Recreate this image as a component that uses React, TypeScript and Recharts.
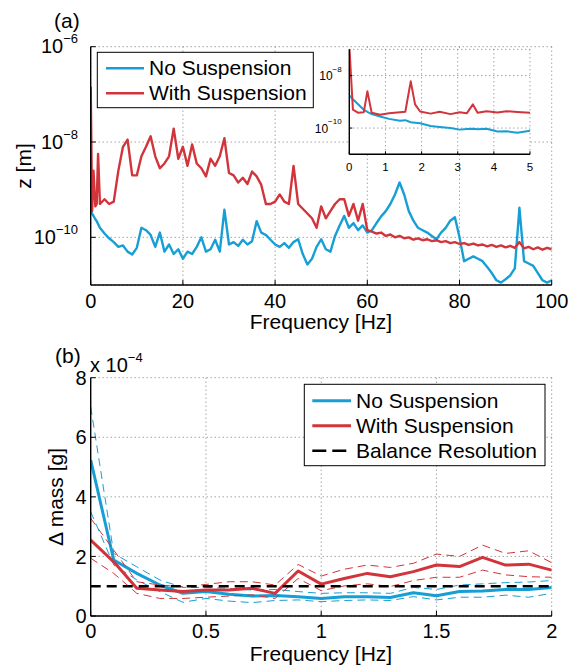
import React from 'react';
import { LineChart, Line, XAxis, YAxis, CartesianGrid } from 'recharts';

if (typeof document !== 'undefined') {
  document.body.style.margin = '0';
  document.documentElement.style.overflow = 'hidden';
  document.body.style.overflow = 'hidden';
}

const FONT = '"Liberation Sans", Arial, Helvetica, sans-serif';
const BLUE = '#179fd5';
const RED = '#d1343a';
const GRID = '#7a7a7a';

// ---------- Panel (a): displacement spectrum ----------
// frequency [Hz]
const spectrumFreq = [
  0, 0.3, 0.6, 1, 1.3, 1.6, 2, 3, 4, 5, 6, 7, 8, 9, 10,
  11, 12, 13, 14, 15, 16, 17, 18, 19, 20, 21, 22, 23, 24, 25, 26, 27, 28, 29, 30,
  31, 32, 33, 34, 35, 36, 37, 38, 39, 40, 41, 42, 43, 44, 45, 46, 47, 48, 49, 50,
  51, 52, 53, 54, 55, 56, 57, 58, 59, 60, 61, 62, 63, 64, 65, 66, 67, 68, 69, 70,
  71, 72, 73, 74, 75, 76, 77, 78, 79, 80, 81, 82, 83, 84, 85, 86, 87, 88, 89, 90,
  91, 92, 93, 94, 95, 96, 97, 98, 99, 100,
];
// log10 of z [m]
const noSuspensionLogZ = [
  -9.45, -9.5, -9.55, -9.62, -9.66, -9.72, -9.8, -9.92, -10.02, -10.1, -10.2, -10.17, -10.3, -10.36, -10.22,
  -9.8, -9.85, -9.95, -10.2, -9.9, -10.3, -10.15, -10.35, -10.25, -10.45, -10.3, -10.35, -10.2, -10.0, -10.3, -10.25, -10.05, -10.3, -9.42, -10.15,
  -10.1, -10.18, -10.05, -10.15, -10.08, -9.66, -9.9, -9.95, -10.05, -10.15, -10.2, -10.12, -10.22, -10.1, -10.04, -10.35, -10.57, -10.45, -10.2, -10.04,
  -10.25, -10.3, -9.97, -9.75, -9.55, -9.8, -9.7, -9.85, -9.75, -9.9, -9.85, -9.7, -9.56, -9.45, -9.3, -9.1, -8.85, -9.1, -9.45, -9.65,
  -9.8, -9.85, -9.9, -9.97, -10.04, -9.9, -9.8, -9.65, -9.58, -10.0, -10.5, -10.45, -10.4, -10.45, -10.5, -10.62, -10.75, -10.9, -10.95, -10.88,
  -10.8, -10.65, -9.38, -10.5, -10.55, -10.6, -10.75, -10.9, -10.95, -10.9,
];
const withSuspensionLogZ = [
  -6.84, -9.45, -8.6, -9.35, -9.3, -8.25, -9.3, -9.2, -9.3, -9.25, -8.6, -8.1, -7.95, -8.7, -8.7,
  -8.3, -8.1, -7.88, -8.3, -8.55, -8.45, -8.3, -7.72, -8.35, -8.1, -8.5, -8.05, -8.45, -8.55, -8.72, -8.35, -8.5, -8.3, -7.92, -8.65,
  -8.7, -8.85, -8.75, -8.88, -8.62, -8.72, -8.9, -9.3, -9.3, -9.25, -9.1, -9.25, -9.3, -8.5, -9.3, -9.4, -9.5, -9.6, -9.8, -9.35,
  -9.6, -9.45, -9.3, -9.2, -9.2, -9.55, -9.3, -9.65, -9.3, -9.85, -9.88, -9.92, -9.9, -9.97, -9.94, -10.0, -9.97, -10.02, -10.0, -10.05,
  -10.02, -10.06, -10.04, -10.08, -10.06, -10.1, -10.08, -10.12, -10.1, -10.14, -10.12, -10.16, -10.13, -10.17, -10.15, -10.19, -10.16, -10.2, -10.17, -10.21,
  -10.18, -10.22, -10.1, -10.23, -10.2, -10.25, -10.21, -10.26, -10.22, -10.25,
];
const spectrumXTicks = [0, 20, 40, 60, 80, 100];
const spectrumYTicks = [1e-10, 1e-8, 1e-6];

// inset: 0-5 Hz
const insetFreq = [0, 0.1, 0.25, 0.4, 0.5, 0.62, 0.85, 1.1, 1.4, 1.55, 1.7, 1.82, 1.96, 2.25, 2.5, 2.8, 3.05, 3.25, 3.42, 3.55, 3.8, 4.1, 4.35, 4.65, 5];
const insetNoLogZ = [-8.76, -8.9, -9.1, -9.3, -9.38, -9.47, -9.56, -9.65, -9.72, -9.7, -9.78, -9.8, -9.82, -9.92, -9.96, -10.0, -10.06, -10.04, -10.03, -10.05, -10.03, -10.13, -10.12, -10.18, -10.1];
const insetWithLogZ = [-6.84, -9.3, -9.42, -9.4, -8.6, -9.42, -9.49, -9.44, -9.4, -9.38, -8.22, -9.1, -9.37, -9.45, -9.38, -9.47, -9.4, -9.44, -9.1, -9.42, -9.36, -9.41, -9.36, -9.39, -9.42];
const insetXTicks = [0, 1, 2, 3, 4, 5];
const insetYTicks = [1e-10, 1e-8];

// ---------- Panel (b): mass error (x 1e-4 g) ----------
const massFreq = [0, 0.1, 0.2, 0.3, 0.4, 0.5, 0.6, 0.7, 0.8, 0.9, 1.0, 1.1, 1.2, 1.3, 1.4, 1.5, 1.6, 1.7, 1.8, 1.9, 2.0];
const noMean = [5.23, 1.88, 1.43, 1.04, 0.76, 0.82, 0.73, 0.67, 0.69, 0.65, 0.59, 0.65, 0.65, 0.62, 0.78, 0.68, 0.82, 0.84, 0.89, 0.89, 0.96];
const noUpper = [7.02, 2.1, 1.65, 1.21, 0.96, 0.96, 0.93, 0.87, 0.89, 0.82, 0.76, 0.78, 0.78, 0.76, 0.96, 0.89, 1.04, 1.08, 1.12, 1.14, 1.19];
const noLower = [3.5, 1.71, 1.21, 0.82, 0.46, 0.59, 0.5, 0.45, 0.52, 0.54, 0.48, 0.52, 0.54, 0.52, 0.65, 0.54, 0.63, 0.63, 0.7, 0.63, 0.76];
const withMean = [2.55, 1.82, 0.93, 0.87, 0.82, 0.87, 0.87, 0.93, 0.76, 1.51, 1.07, 1.26, 1.43, 1.32, 1.49, 1.71, 1.66, 1.97, 1.71, 1.74, 1.54];
const withUpper = [3.28, 2.21, 1.15, 1.04, 0.98, 1.06, 1.15, 1.15, 1.04, 1.73, 1.34, 1.57, 1.71, 1.63, 1.77, 2.08, 2.0, 2.38, 2.1, 2.19, 1.79];
const withLower = [1.94, 1.43, 0.76, 0.59, 0.59, 0.63, 0.67, 0.71, 0.59, 1.26, 0.85, 1.01, 1.08, 0.99, 1.19, 1.3, 1.3, 1.54, 1.38, 1.32, 1.3];
const balanceResolution = [1, 1, 1, 1, 1, 1, 1, 1, 1, 1, 1, 1, 1, 1, 1, 1, 1, 1, 1, 1, 1];
const massXTicks = [0, 0.5, 1, 1.5, 2];
const massYTicks = [0, 2, 4, 6, 8];

const spectrumRows = spectrumFreq.map((f, i) => ({ f, no: 10 ** noSuspensionLogZ[i], withS: 10 ** withSuspensionLogZ[i] }));
const insetRows = insetFreq.map((f, i) => ({ f, no: 10 ** insetNoLogZ[i], withS: 10 ** insetWithLogZ[i] }));
const massRows = massFreq.map((f, i) => ({
  f, noMean: noMean[i], noUpper: noUpper[i], noLower: noLower[i],
  withMean: withMean[i], withUpper: withUpper[i], withLower: withLower[i], bal: balanceResolution[i],
}));

const AXIS = { stroke: '#000', strokeWidth: 1.4 };
const TICKLINE = { stroke: '#000', strokeWidth: 1 };
const Empty = () => <g />;

function PowTick(props: any) {
  const { x, y, payload, size, expSize, base, rise } = props;
  const e = Math.round(Math.log10(payload.value));
  return (
    <text x={x} y={y + base} textAnchor="end" fontFamily={FONT} fontSize={size} fill="#000">
      10
      <tspan fontSize={expSize} dy={-rise}>{'\u2212' + Math.abs(e)}</tspan>
    </text>
  );
}

export default function App() {
  return (
    <div style={{ position: 'relative', width: 574, height: 666, background: '#fff', overflow: 'hidden' }}>
      {/* Panel (a) */}
      <div style={{ position: 'absolute', left: 0, top: 0 }}>
        <LineChart width={574} height={340} data={spectrumRows} margin={{ top: 46.7, right: 22.3, left: 0, bottom: 0 }}>
          <CartesianGrid stroke={GRID} strokeDasharray="1 3" />
          <XAxis dataKey="f" type="number" domain={[0, 100]} ticks={spectrumXTicks} allowDataOverflow
            height={55} axisLine={AXIS} tickLine={TICKLINE} tickSize={-5} tickMargin={13.5}
            tick={{ fontSize: 20, fill: '#000', fontFamily: FONT }} />
          <XAxis xAxisId="top" orientation="top" type="number" domain={[0, 100]} ticks={spectrumXTicks} allowDataOverflow
            height={0} axisLine={AXIS} tickLine={TICKLINE} tickSize={-5} tick={Empty} />
          <YAxis type="number" scale="log" domain={[1e-11, 1e-6]} ticks={spectrumYTicks} allowDataOverflow
            width={90.7} axisLine={AXIS} tickLine={TICKLINE} tickSize={-5} tickMargin={17.7}
            tick={(p: any) => <PowTick {...p} size={20} expSize={13} base={6.6} rise={10} />} />
          <YAxis yAxisId="right" orientation="right" type="number" scale="log" domain={[1e-11, 1e-6]} ticks={spectrumYTicks} allowDataOverflow
            width={0} axisLine={AXIS} tickLine={TICKLINE} tickSize={-5} tick={Empty} />
          <Line dataKey="no" stroke={BLUE} strokeWidth={2.4} dot={false} isAnimationActive={false} strokeLinejoin="round" />
          <Line dataKey="withS" stroke={RED} strokeWidth={2.4} dot={false} isAnimationActive={false} strokeLinejoin="round" />
        </LineChart>
      </div>

      {/* Panel (b) */}
      <div style={{ position: 'absolute', left: 0, top: 330 }}>
        <LineChart width={574} height={336} data={massRows} margin={{ top: 47.7, right: 22.3, left: 0, bottom: 0 }}>
          <CartesianGrid stroke={GRID} strokeDasharray="1 3" />
          <XAxis dataKey="f" type="number" domain={[0, 2]} ticks={massXTicks} allowDataOverflow
            height={50} axisLine={AXIS} tickLine={TICKLINE} tickSize={-5} tickMargin={12.3}
            tick={{ fontSize: 20, fill: '#000', fontFamily: FONT }} />
          <XAxis xAxisId="top" orientation="top" type="number" domain={[0, 2]} ticks={massXTicks} allowDataOverflow
            height={0} axisLine={AXIS} tickLine={TICKLINE} tickSize={-5} tick={Empty} />
          <YAxis type="number" domain={[0, 8]} ticks={massYTicks} allowDataOverflow
            width={90.7} axisLine={AXIS} tickLine={TICKLINE} tickSize={-5} tickMargin={9}
            tick={{ fontSize: 20, fill: '#000', fontFamily: FONT }} />
          <YAxis yAxisId="right" orientation="right" type="number" domain={[0, 8]} ticks={massYTicks} allowDataOverflow
            width={0} axisLine={AXIS} tickLine={TICKLINE} tickSize={-5} tick={Empty} />
          <Line dataKey="noUpper" stroke={BLUE} strokeWidth={1} strokeDasharray="8 5" dot={false} isAnimationActive={false} />
          <Line dataKey="noLower" stroke={BLUE} strokeWidth={1} strokeDasharray="8 5" dot={false} isAnimationActive={false} />
          <Line dataKey="noMean" stroke={BLUE} strokeWidth={3} dot={false} isAnimationActive={false} strokeLinejoin="round" />
          <Line dataKey="withUpper" stroke={RED} strokeWidth={1} strokeDasharray="8 5" dot={false} isAnimationActive={false} />
          <Line dataKey="withLower" stroke={RED} strokeWidth={1} strokeDasharray="8 5" dot={false} isAnimationActive={false} />
          <Line dataKey="withMean" stroke={RED} strokeWidth={3} dot={false} isAnimationActive={false} strokeLinejoin="round" />
          <Line dataKey="bal" stroke="#000" strokeWidth={2.5} strokeDasharray="10 6" dot={false} isAnimationActive={false} />
        </LineChart>
      </div>

      {/* Inset of panel (a) */}
      <div style={{ position: 'absolute', left: 300, top: 40 }}>
        <LineChart width={240} height={140} data={insetRows} margin={{ top: 9.3, right: 10, left: 0, bottom: 0 }}>
          <CartesianGrid stroke={GRID} strokeDasharray="1 3" fill="#fff" fillOpacity={1} />
          <XAxis dataKey="f" type="number" domain={[0, 5]} ticks={insetXTicks} allowDataOverflow
            height={25.7} axisLine={AXIS} tickLine={TICKLINE} tickSize={-3} tickMargin={11.4}
            tick={{ fontSize: 11.5, fill: '#000', fontFamily: FONT }} />
          <XAxis xAxisId="top" orientation="top" type="number" domain={[0, 5]} ticks={insetXTicks} allowDataOverflow
            height={0} axisLine={AXIS} tickLine={TICKLINE} tickSize={-3} tick={Empty} />
          <YAxis type="number" scale="log" domain={[1e-11, 1e-7]} ticks={insetYTicks} allowDataOverflow
            width={49.3} axisLine={AXIS} tickLine={TICKLINE} tickSize={-3} tickMargin={10.6}
            tick={(p: any) => <PowTick {...p} size={12} expSize={8} base={4.6} rise={8.6} />} />
          <YAxis yAxisId="right" orientation="right" type="number" scale="log" domain={[1e-11, 1e-7]} ticks={insetYTicks} allowDataOverflow
            width={0} axisLine={AXIS} tickLine={TICKLINE} tickSize={-3} tick={Empty} />
          <Line dataKey="no" stroke={BLUE} strokeWidth={2} dot={false} isAnimationActive={false} strokeLinejoin="round" />
          <Line dataKey="withS" stroke={RED} strokeWidth={2} dot={false} isAnimationActive={false} strokeLinejoin="round" />
        </LineChart>
      </div>

      {/* Legends and labels */}
      <svg width={574} height={666} style={{ position: 'absolute', left: 0, top: 0, pointerEvents: 'none' }} fontFamily={FONT}>
        <text x={54} y={28} fontSize={21}>(a)</text>
        <text x={55} y={363} fontSize={21}>(b)</text>
        <text x={90} y={372} fontSize={20}>x 10<tspan fontSize={13} dy={-10.5}>{'\u2212'}4</tspan></text>

        <text x={321} y={329} fontSize={21} textAnchor="middle">Frequency [Hz]</text>
        <text x={321} y={661} fontSize={21} textAnchor="middle">Frequency [Hz]</text>
        <text transform="translate(31,166) rotate(-90)" fontSize={21} textAnchor="middle">z [m]</text>
        <text transform="translate(63,497) rotate(-90)" fontSize={21} textAnchor="middle">{'\u0394 mass [g]'}</text>

        <rect x={97.3} y={52.3} width={216} height={55.4} fill="#fff" stroke="#000" strokeWidth={1} />
        <line x1={106} x2={144} y1={68.3} y2={68.3} stroke={BLUE} strokeWidth={2.5} />
        <text x={149} y={75.3} fontSize={21}>No Suspension</text>
        <line x1={106} x2={144} y1={93.3} y2={93.3} stroke={RED} strokeWidth={2.5} />
        <text x={149} y={100.3} fontSize={21}>With Suspension</text>

        <rect x={304.3} y={384.3} width={240.7} height={81.4} fill="#fff" stroke="#000" strokeWidth={1} />
        <line x1={312.3} x2={351} y1={400.7} y2={400.7} stroke={BLUE} strokeWidth={3} />
        <text x={356} y={407.8} fontSize={21}>No Suspension</text>
        <line x1={312.3} x2={351} y1={425.7} y2={425.7} stroke={RED} strokeWidth={3} />
        <text x={356} y={432.8} fontSize={21}>With Suspension</text>
        <line x1={312.3} x2={351} y1={450.7} y2={450.7} stroke="#000" strokeWidth={2.5} strokeDasharray="14 6" />
        <text x={356} y={457.8} fontSize={21}>Balance Resolution</text>
      </svg>
    </div>
  );
}
